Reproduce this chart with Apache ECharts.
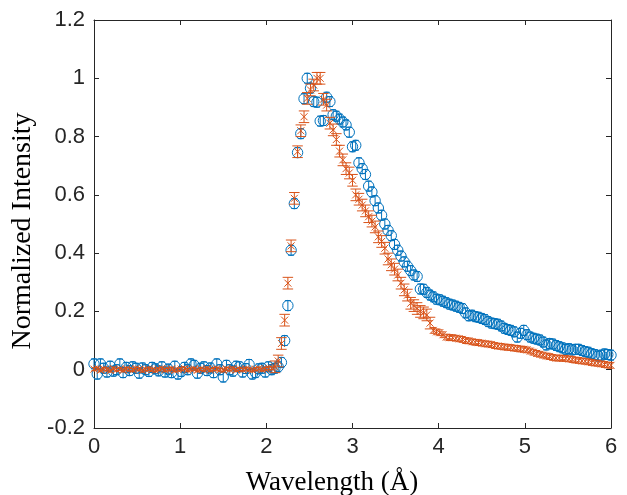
<!DOCTYPE html>
<html>
<head>
<meta charset="utf-8">
<script src="https://cdn.jsdelivr.net/npm/echarts@6/dist/echarts.min.js"></script>
<style>html,body{margin:0;padding:0;background:#fff}#c{width:627px;height:495px}</style>
</head>
<body>
<div id="c"></div>
<script>
// Wavelength grid (Å)
const wavelength = [
0,0.0375,0.075,0.1125,0.15,0.1875,0.225,0.2625,0.3,0.3375,0.375,0.4125,0.45,0.4875,0.525,0.5625,0.6,0.6375,0.675,0.7125,
0.75,0.7875,0.825,0.8625,0.9,0.9375,0.975,1.0125,1.05,1.0875,1.125,1.1625,1.2,1.2375,1.275,1.3125,1.35,1.3875,1.425,1.4625,
1.5,1.5375,1.575,1.6125,1.65,1.6875,1.725,1.7625,1.8,1.8375,1.875,1.9125,1.95,1.9875,2.025,2.0625,2.1,2.1375,2.175,2.2125,
2.25,2.2875,2.325,2.3625,2.4,2.4375,2.475,2.5125,2.55,2.5875,2.625,2.6625,2.7,2.7375,2.775,2.8125,2.85,2.8875,2.925,2.9625,
3,3.0375,3.075,3.1125,3.15,3.1875,3.225,3.2625,3.3,3.3375,3.375,3.4125,3.45,3.4875,3.525,3.5625,3.6,3.6375,3.675,3.7125,
3.75,3.7875,3.825,3.8625,3.9,3.9375,3.975,4.0125,4.05,4.0875,4.125,4.1625,4.2,4.2375,4.275,4.3125,4.35,4.3875,4.425,4.4625,
4.5,4.5375,4.575,4.6125,4.65,4.6875,4.725,4.7625,4.8,4.8375,4.875,4.9125,4.95,4.9875,5.025,5.0625,5.1,5.1375,5.175,5.2125,
5.25,5.2875,5.325,5.3625,5.4,5.4375,5.475,5.5125,5.55,5.5875,5.625,5.6625,5.7,5.7375,5.775,5.8125,5.85,5.8875,5.925,5.9625,6
];
// Blue series (circles)
const blueIntensity = [
0.02,-0.015,0.02,0.005,-0.008,0.012,-0.005,0,0.02,-0.01,0.008,-0.003,0.01,0.005,-0.012,0.006,0,-0.006,0.008,0.003,
-0.004,0.01,-0.008,0.002,-0.01,0.012,-0.015,-0.006,0.008,0,0.02,0.015,-0.012,0.005,0.01,-0.003,0.006,-0.01,0.02,0,
-0.025,0.015,0,-0.005,0.012,0.01,-0.008,0.004,0.018,-0.015,-0.01,0.003,0.005,-0.008,0.01,0,0.005,0.01,0.025,0.1,
0.22,0.41,0.57,0.745,0.81,0.93,1.0,0.966,0.92,0.918,0.853,0.855,0.935,0.92,0.875,0.87,0.86,0.85,0.84,0.815,
0.765,0.77,0.71,0.69,0.67,0.63,0.61,0.58,0.555,0.53,0.5,0.478,0.46,0.43,0.41,0.39,0.37,0.355,0.34,0.325,
0.32,0.277,0.276,0.265,0.256,0.25,0.242,0.24,0.235,0.23,0.225,0.222,0.218,0.214,0.21,0.195,0.185,0.187,0.182,0.18,
0.176,0.172,0.165,0.16,0.158,0.156,0.15,0.142,0.138,0.135,0.13,0.112,0.125,0.135,0.12,0.112,0.108,0.105,0.102,0.095,
0.085,0.09,0.088,0.083,0.079,0.075,0.07,0.072,0.068,0.07,0.07,0.066,0.062,0.06,0.055,0.052,0.047,0.05,0.054,0.052,0.05
];
// Orange series (crosses)
const orangeIntensity = [
0.002,0.004,-0.002,0.003,0.001,-0.003,0.004,0,0.002,-0.002,0.003,0.001,-0.001,0.004,0.002,-0.003,0.001,0.003,0,-0.002,
0.002,0.004,-0.001,0.001,0.003,-0.002,0,0.002,0.004,-0.001,0.001,0.003,-0.002,0.002,0,0.004,-0.001,0.002,0.003,0,
-0.002,0.003,0.001,0.004,-0.001,0.002,0,0.003,0.001,-0.002,0.002,0.004,0,0.003,0.005,0.005,0.01,0.03,0.09,0.17,
0.297,0.425,0.588,0.748,0.82,0.868,0.931,0.96,0.977,1.0,1.0,0.928,0.908,0.846,0.823,0.79,0.75,0.72,0.69,0.675,
0.65,0.6,0.585,0.565,0.545,0.525,0.51,0.49,0.456,0.44,0.417,0.38,0.36,0.345,0.325,0.297,0.274,0.256,0.228,0.22,
0.21,0.2,0.195,0.188,0.16,0.135,0.13,0.127,0.12,0.112,0.11,0.11,0.108,0.106,0.104,0.1,0.099,0.096,0.094,0.093,
0.091,0.089,0.088,0.086,0.083,0.081,0.08,0.078,0.077,0.076,0.074,0.073,0.071,0.07,0.068,0.064,0.06,0.056,0.053,0.05,
0.047,0.045,0.042,0.04,0.04,0.039,0.039,0.037,0.035,0.033,0.032,0.03,0.029,0.027,0.025,0.023,0.022,0.02,0.018,0.016,0.015
];
// Error bar half-lengths
const blueError = 0.017;
const orangeErrorFlat = 0.005, orangeErrorPeak = 0.02, orangeErrorTail = 0.01;
const xTicks = [0,1,2,3,4,5,6];
const yTicks = [-0.2,0,0.2,0.4,0.6,0.8,1,1.2];
const xTitle = 'Wavelength (Å)';
const yTitle = 'Normalized Intensity';

const BLUE = '#0072BD', ORANGE = '#D95319';

function orangeErr(i){ return i < 56 ? orangeErrorFlat : (i < 105 ? orangeErrorPeak : orangeErrorTail); }

const blueData = wavelength.map((x,i)=>[x, blueIntensity[i], blueError]);
const orangeData = wavelength.map((x,i)=>[x, orangeIntensity[i], orangeErr(i)]);

function renderBlue(params, api){
  const x = api.value(0), y = api.value(1), e = api.value(2);
  const p = api.coord([x,y]), t = api.coord([x,y+e]), b = api.coord([x,y-e]);
  const st = {stroke: BLUE, lineWidth: 1, fill: null};
  return {type:'group', children:[
    {type:'line', shape:{x1:p[0],y1:t[1],x2:p[0],y2:b[1]}, style:st},
    {type:'line', shape:{x1:p[0]-3,y1:t[1],x2:p[0]+3,y2:t[1]}, style:st},
    {type:'line', shape:{x1:p[0]-3,y1:b[1],x2:p[0]+3,y2:b[1]}, style:st},
    {type:'circle', shape:{cx:p[0],cy:p[1],r:5.2}, style:{stroke:BLUE,lineWidth:1,fill:'none'}}
  ]};
}
function renderOrange(params, api){
  const x = api.value(0), y = api.value(1), e = api.value(2);
  const p = api.coord([x,y]), t = api.coord([x,y+e]), b = api.coord([x,y-e]);
  const st = {stroke: ORANGE, lineWidth: 1, fill: null};
  const hw = Math.max(2.5, Math.abs(b[1]-t[1])*0.45);
  const s = 3.5;
  return {type:'group', children:[
    {type:'line', shape:{x1:p[0],y1:t[1],x2:p[0],y2:b[1]}, style:st},
    {type:'line', shape:{x1:p[0]-hw,y1:t[1],x2:p[0]+hw,y2:t[1]}, style:st},
    {type:'line', shape:{x1:p[0]-hw,y1:b[1],x2:p[0]+hw,y2:b[1]}, style:st},
    {type:'line', shape:{x1:p[0]-s,y1:p[1]-s,x2:p[0]+s,y2:p[1]+s}, style:st},
    {type:'line', shape:{x1:p[0]-s,y1:p[1]+s,x2:p[0]+s,y2:p[1]-s}, style:st}
  ]};
}

const AX = '#262626';
const tickFont = {fontFamily:'"Liberation Sans", Arial, sans-serif', fontSize:22, color:AX};
const titleFont = '"Liberation Serif", "Times New Roman", serif';
const fmt = v => String(Math.round(v*10)/10);

const chart = echarts.init(document.getElementById('c'), null, {renderer:'canvas'});
chart.setOption({
  animation:false,
  backgroundColor:'#fff',
  grid:{left:94, right:16, top:20, bottom:67, containLabel:false},
  graphic:[
    {type:'text', left:null, x:332, y:483, silent:true,
     style:{text:xTitle, font:'27px ' + titleFont, fill:'#000', align:'center', verticalAlign:'middle'}},
    {type:'text', x:23, y:231, rotation:Math.PI/2, silent:true,
     style:{text:yTitle, font:'28px ' + titleFont, fill:'#000', align:'center', verticalAlign:'middle'}}
  ],
  xAxis:[
    {type:'value', min:xTicks[0], max:xTicks[xTicks.length-1], interval:1, position:'bottom',
     axisLine:{onZero:false, lineStyle:{color:AX,width:1}},
     axisTick:{inside:true, length:5, lineStyle:{color:AX}},
     axisLabel:Object.assign({margin:8, formatter:fmt}, tickFont),
     splitLine:{show:false}},
    {type:'value', min:xTicks[0], max:xTicks[xTicks.length-1], interval:1, position:'top',
     axisLine:{onZero:false, lineStyle:{color:AX,width:1}},
     axisTick:{inside:true, length:5, lineStyle:{color:AX}},
     axisLabel:{show:false}, splitLine:{show:false}}
  ],
  yAxis:[
    {type:'value', min:yTicks[0], max:yTicks[yTicks.length-1], interval:0.2, position:'left',
     axisLine:{show:true, onZero:false, lineStyle:{color:AX,width:1}},
     axisTick:{show:true, inside:true, length:5, lineStyle:{color:AX}},
     axisLabel:Object.assign({margin:9, formatter:fmt}, tickFont),
     splitLine:{show:false}},
    {type:'value', min:yTicks[0], max:yTicks[yTicks.length-1], interval:0.2, position:'right',
     axisLine:{show:true, onZero:false, lineStyle:{color:AX,width:1}},
     axisTick:{show:true, inside:true, length:5, lineStyle:{color:AX}},
     axisLabel:{show:false}, splitLine:{show:false}}
  ],
  series:[
    {type:'custom', name:'blue', xAxisIndex:0, yAxisIndex:0, data:blueData, renderItem:renderBlue, clip:false, encode:{x:0,y:1}},
    {type:'custom', name:'orange', xAxisIndex:0, yAxisIndex:0, data:orangeData, renderItem:renderOrange, clip:false, encode:{x:0,y:1}}
  ]
});
</script>
</body>
</html>
